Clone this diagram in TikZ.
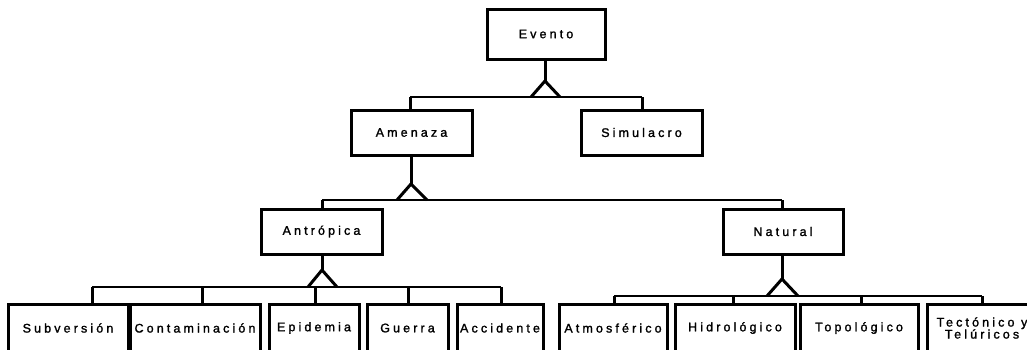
\documentclass[tikz,border=0pt]{standalone}
\usepackage{fontspec}
\newfontfamily\boxfont[LetterSpace=25,FakeBold=1.5]{Liberation Sans}
\begin{document}
\begin{tikzpicture}[x=1pt,y=-1pt,
  box/.style={draw, line width=3pt, inner sep=0pt, align=center,
    font=\boxfont\fontsize{12.5}{12}\selectfont},
  midbox/.style={box, minimum width=121pt, minimum height=45pt},
  leaf/.style={box, minimum height=48pt},
  bus/.style={line width=2pt},
  stem/.style={line width=3pt},
  fork/.style={line width=3pt, line join=miter}]
\path[use as bounding box, clip] (0,0) rectangle (1027,349);

% boxes
\node[box, minimum width=118pt, minimum height=50pt] (evento) at (546,34) {Evento};
\node[midbox] (amenaza)   at (411.5,132.5) {Amenaza};
\node[midbox] (simulacro) at (641.5,132.5) {Simulacro};
\node[midbox] (antropica) at (321.5,231.5) {Antrópica};
\node[midbox, minimum width=120pt] (natural) at (783,231.5) {Natural};

\node[leaf, minimum width=120pt] (subversion)    at (68,328)   {Subversión};
\node[leaf, minimum width=130pt] (contaminacion) at (195,328)  {Contaminación};
\node[leaf, minimum width=90pt]  (epidemia)      at (314,328)  {Epidemia};
\node[leaf, minimum width=81pt]  (guerra)        at (407.5,328) {Guerra};
\node[leaf, minimum width=86pt]  (accidente)     at (500,328)  {Accidente};
\node[leaf, minimum width=108pt] (atmosferico)   at (613,328)  {Atmosférico};
\node[leaf, minimum width=120pt] (hidrologico)   at (735,328)  {Hidrológico};
\node[leaf, minimum width=118pt] (topologico)    at (859,328)  {Topológico};
\node[leaf, minimum width=110pt] (tectonico)     at (982,328)  {Tectónico y\\Telúricos};

% fork points and buses
\coordinate (f1a) at (545,81);  \coordinate (f1l) at (531,97);  \coordinate (f1r) at (560,97);
\coordinate (b1l) at (410,97);  \coordinate (b1r) at (642,97);
\coordinate (f2a) at (411,184); \coordinate (f2l) at (397,200); \coordinate (f2r) at (427,200);
\coordinate (b2l) at (322,200); \coordinate (b2r) at (782,200);
\coordinate (f3a) at (322,270); \coordinate (f3l) at (308,287); \coordinate (f3r) at (337,287);
\coordinate (b3a) at (92,287);  \coordinate (b3b) at (202,287); \coordinate (b3c) at (315,287);
\coordinate (b3d) at (408,287); \coordinate (b3e) at (501,287);
\coordinate (f4a) at (782,279); \coordinate (f4l) at (767,296); \coordinate (f4r) at (798,296);
\coordinate (b4a) at (614,296); \coordinate (b4b) at (733,296); \coordinate (b4c) at (861,296);
\coordinate (b4d) at (982,296);

% Evento
\draw[stem] (evento.south -| f1a) -- (f1a);
\draw[fork] (f1l) -- (f1a) -- (f1r);
\draw[bus] (b1l) -- (b1r);
\draw[stem] (b1l) -- (b1l |- amenaza.north);
\draw[stem] (b1r) -- (b1r |- simulacro.north);

% Amenaza
\draw[stem] (amenaza.south -| f2a) -- (f2a);
\draw[fork] (f2l) -- (f2a) -- (f2r);
\draw[bus] (b2l) -- (b2r);
\draw[stem] (b2l) -- (b2l |- antropica.north);
\draw[stem] (b2r) -- (b2r |- natural.north);

% Antrópica
\draw[stem] (antropica.south -| f3a) -- (f3a);
\draw[fork] (f3l) -- (f3a) -- (f3r);
\draw[bus] (b3a) -- (b3e);
\draw[stem] (b3a) -- (b3a |- subversion.north);
\draw[stem] (b3b) -- (b3b |- contaminacion.north);
\draw[stem] (b3c) -- (b3c |- epidemia.north);
\draw[stem] (b3d) -- (b3d |- guerra.north);
\draw[stem] (b3e) -- (b3e |- accidente.north);

% Natural
\draw[stem] (natural.south -| f4a) -- (f4a);
\draw[fork] (f4l) -- (f4a) -- (f4r);
\draw[bus] (b4a) -- (b4d);
\draw[stem] (b4a) -- (b4a |- atmosferico.north);
\draw[stem] (b4b) -- (b4b |- hidrologico.north);
\draw[stem] (b4c) -- (b4c |- topologico.north);
\draw[stem] (b4d) -- (b4d |- tectonico.north);
\end{tikzpicture}
\end{document}
